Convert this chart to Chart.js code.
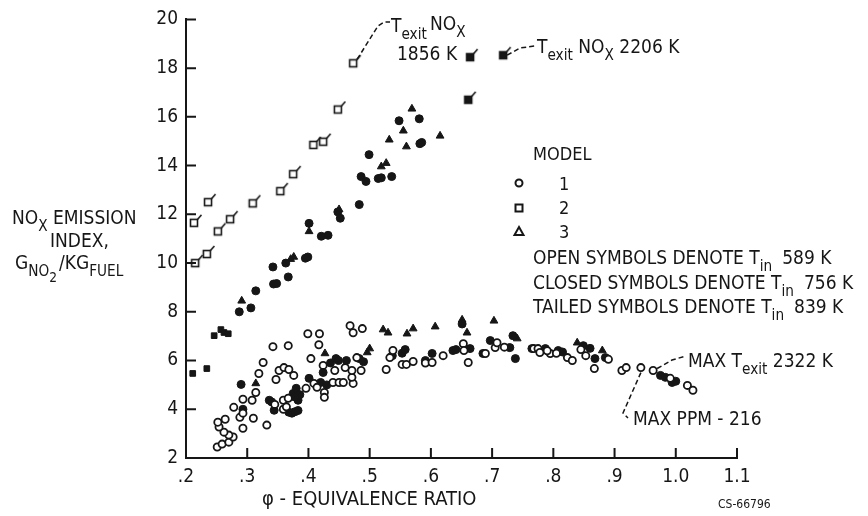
<!DOCTYPE html>
<html>
<head>
<meta charset="utf-8">
<script src="https://cdn.jsdelivr.net/npm/chart.js@4.4.1/dist/chart.umd.min.js"></script>
<style>
  html, body { margin: 0; padding: 0; background: #fff; }
  #wrap { width: 868px; height: 516px; position: relative; }
</style>
</head>
<body>
<div id="wrap"><canvas id="noxChart" width="868" height="516"></canvas></div>
<script>
/* NOx emission index vs equivalence ratio, scatter */
const xTicks = [0.2, 0.3, 0.4, 0.5, 0.6, 0.7, 0.8, 0.9, 1.0, 1.1];
const yTicks = [2, 4, 6, 8, 10, 12, 14, 16, 18, 20];

// model 1, open symbols (T_in 589 K)
const openCircles = [
    [0.251, 2.45], [0.259, 2.57], [0.27, 2.65], [0.277, 2.86], [0.27, 2.94], [0.262, 3.06],
    [0.293, 3.22], [0.254, 3.27], [0.332, 3.35], [0.252, 3.47], [0.264, 3.59], [0.288, 3.67],
    [0.31, 3.63], [0.278, 4.08], [0.293, 3.84], [0.293, 4.41], [0.308, 4.37], [0.314, 4.69],
    [0.319, 5.47], [0.326, 5.92], [0.342, 6.57], [0.367, 6.61], [0.347, 5.22], [0.352, 5.59],
    [0.36, 5.71], [0.368, 5.63], [0.376, 5.39], [0.359, 4.37], [0.367, 4.45], [0.359, 4.0],
    [0.364, 4.1], [0.345, 4.2], [0.396, 4.86], [0.399, 7.1], [0.418, 7.1], [0.417, 6.65],
    [0.404, 6.08], [0.409, 5.06], [0.414, 4.9], [0.424, 5.8], [0.426, 4.69], [0.426, 4.49],
    [0.44, 5.1], [0.45, 5.1], [0.457, 5.1], [0.473, 5.06], [0.471, 5.31], [0.471, 5.59],
    [0.46, 5.71], [0.468, 7.43], [0.473, 7.14], [0.488, 7.31], [0.479, 6.12], [0.486, 5.59],
    [0.443, 5.59], [0.527, 5.63], [0.533, 6.12], [0.538, 6.41], [0.553, 5.84], [0.56, 5.84],
    [0.571, 5.96], [0.591, 5.9], [0.602, 5.92], [0.62, 6.2], [0.653, 6.69], [0.654, 6.41],
    [0.661, 5.92], [0.689, 6.29], [0.705, 6.53], [0.708, 6.73], [0.72, 6.55], [0.768, 6.49],
    [0.775, 6.49], [0.778, 6.33], [0.795, 6.29], [0.79, 6.4], [0.805, 6.3], [0.823, 6.12],
    [0.831, 6.0], [0.845, 6.45], [0.853, 6.2], [0.867, 5.67], [0.89, 6.05], [0.912, 5.59],
    [0.919, 5.71], [0.943, 5.71], [0.963, 5.59], [0.991, 5.27], [1.019, 4.98], [1.028, 4.78]
];

// model 1, closed symbols (T_in 756 K)
const closedCircles = [
    [0.287, 8.0], [0.306, 8.16], [0.314, 8.86], [0.342, 9.84], [0.343, 9.14], [0.348, 9.16],
    [0.363, 10.0], [0.367, 9.43], [0.395, 10.2], [0.399, 10.25], [0.401, 11.63], [0.421, 11.1],
    [0.432, 11.14], [0.448, 12.1], [0.452, 11.84], [0.483, 12.4], [0.486, 13.55], [0.494, 13.35],
    [0.499, 14.45], [0.514, 13.47], [0.519, 13.5], [0.536, 13.55], [0.548, 15.84], [0.581, 15.92],
    [0.582, 14.9], [0.585, 14.95],
    [0.29, 5.02], [0.293, 4.0], [0.336, 4.37], [0.34, 4.3], [0.344, 3.96], [0.368, 3.88],
    [0.373, 3.84], [0.378, 3.9], [0.383, 3.95], [0.375, 4.65], [0.38, 4.86], [0.383, 4.37],
    [0.386, 4.6], [0.378, 4.5], [0.401, 5.27], [0.42, 5.1], [0.424, 5.51], [0.436, 5.9],
    [0.445, 6.08], [0.449, 6.0], [0.462, 6.0], [0.483, 6.08], [0.49, 5.95], [0.43, 5.0],
    [0.537, 6.2], [0.553, 6.3], [0.558, 6.45], [0.591, 6.0], [0.602, 6.29], [0.636, 6.41],
    [0.641, 6.45], [0.664, 6.49], [0.685, 6.29], [0.697, 6.82], [0.729, 6.53], [0.734, 7.02],
    [0.738, 6.08], [0.651, 7.5], [0.765, 6.49], [0.787, 6.49], [0.808, 6.41], [0.815, 6.35],
    [0.849, 6.61], [0.86, 6.5], [0.868, 6.08], [0.885, 6.12], [0.975, 5.39], [0.983, 5.31],
    [0.994, 5.1], [1.0, 5.15]
];

// model 2, closed symbols
const closedSquares = [
    [0.211, 5.47], [0.234, 5.67], [0.246, 7.02], [0.257, 7.27], [0.262, 7.15], [0.269, 7.1]
];

// model 3, closed symbols
const closedTriangles = [
    [0.291, 8.45], [0.371, 10.16], [0.376, 10.25], [0.401, 11.3], [0.45, 12.2], [0.519, 13.96],
    [0.527, 14.1], [0.532, 15.06], [0.555, 15.43], [0.56, 14.78], [0.569, 16.33], [0.615, 15.22],
    [0.314, 5.06], [0.427, 6.29], [0.496, 6.33], [0.5, 6.49], [0.522, 7.27], [0.53, 7.14],
    [0.561, 7.1], [0.571, 7.31], [0.607, 7.39], [0.651, 7.67], [0.659, 7.14], [0.703, 7.63],
    [0.741, 6.9], [0.88, 6.41], [0.839, 6.73]
];

// tailed symbols (T_in 839 K)
const tailedSquares = [
    [0.213, 11.65], [0.215, 10.0], [0.234, 10.37], [0.236, 12.5], [0.252, 11.3], [0.272, 11.8],
    [0.309, 12.45], [0.354, 12.95], [0.375, 13.65], [0.408, 14.85], [0.424, 14.98], [0.448, 16.3],
    [0.473, 18.2]
];
const tailedClosed = [[0.661, 16.7], [0.664, 18.45], [0.718, 18.53]];

const FONT = '"Liberation Sans Narrow", "DejaVu Sans Condensed", "Arial Narrow", sans-serif';
const INK = "#161616";

function toXY(arr) {
    return arr.map(function (p) { return { x: p[0], y: p[1] }; });
}

// small canvas used as point style: square with a tail
function tailedMark(filled) {
    const c = document.createElement("canvas");
    c.width = 18;
    c.height = 18;
    const g = c.getContext("2d");
    g.strokeStyle = INK;
    g.fillStyle = filled ? INK : "#fff";
    g.lineWidth = 1.6;
    g.fillRect(5.5, 5.5, 7, 7);
    g.strokeRect(5.5, 5.5, 7, 7);
    g.beginPath();
    g.moveTo(12.5, 5.5);
    g.lineTo(16.5, 1);
    g.stroke();
    return c;
}

// draw text with sub/normal runs; returns x at end
function runs(ctx, x, y, parts, size) {
    parts.forEach(function (p) {
        const sub = p[1] === "s";
        const s = sub ? size * 0.8 : size;
        ctx.font = s + "px " + FONT;
        ctx.fillText(p[0], x, y + (sub ? size * 0.38 : 0));
        x += ctx.measureText(p[0]).width;
    });
    return x;
}

const annotations = {
    id: "annotations",
    afterDraw(chart) {
        const ctx = chart.ctx;
        const xs = chart.scales.x, ys = chart.scales.y;
        const area = chart.chartArea;
        ctx.save();
        ctx.fillStyle = INK;
        ctx.strokeStyle = INK;

        // inward tick marks
        ctx.lineWidth = 2;
        ctx.beginPath();
        yTicks.forEach(function (v) {
            const py = ys.getPixelForValue(v);
            ctx.moveTo(area.left, py);
            ctx.lineTo(area.left + 10, py);
        });
        xTicks.forEach(function (v) {
            const px = xs.getPixelForValue(v);
            ctx.moveTo(px, area.bottom);
            ctx.lineTo(px, area.bottom - 10);
        });
        ctx.stroke();

        ctx.textBaseline = "alphabetic";
        ctx.textAlign = "left";

        // y axis title
        runs(ctx, 12, 224, [["NO", "n"], ["X", "s"], [" EMISSION", "n"]], 19);
        runs(ctx, 50, 247, [["INDEX,", "n"]], 19);
        let gx = runs(ctx, 15, 269, [["G", "n"], ["NO", "s"]], 19);
        gx = runs(ctx, gx, 276, [["2", "s"]], 17);
        runs(ctx, gx + 2, 269, [["/KG", "n"], ["FUEL", "s"]], 19);

        // x axis title
        ctx.font = "20px " + FONT;
        ctx.fillText("\u03c6 - EQUIVALENCE RATIO", 262, 505);
        ctx.font = "12px " + FONT;
        ctx.fillText("CS-66796", 718, 508);

        // legend block
        ctx.font = "18px " + FONT;
        ctx.fillText("MODEL", 533, 160);
        ctx.fillText("1", 559, 190);
        ctx.fillText("2", 559, 214);
        ctx.fillText("3", 559, 238);
        ctx.lineWidth = 2;
        ctx.beginPath();
        ctx.arc(519, 183, 3.5, 0, Math.PI * 2);
        ctx.stroke();
        ctx.strokeRect(515.5, 204.5, 7, 7);
        ctx.beginPath();
        ctx.moveTo(519, 227);
        ctx.lineTo(523.5, 235);
        ctx.lineTo(514.5, 235);
        ctx.closePath();
        ctx.stroke();

        let e = runs(ctx, 533, 264, [["OPEN SYMBOLS DENOTE T", "n"], ["in", "s"]], 19);
        runs(ctx, e + 10, 264, [["589 K", "n"]], 19);
        e = runs(ctx, 533, 289, [["CLOSED SYMBOLS DENOTE T", "n"], ["in", "s"]], 19);
        runs(ctx, e + 10, 289, [["756 K", "n"]], 19);
        e = runs(ctx, 533, 313, [["TAILED SYMBOLS DENOTE T", "n"], ["in", "s"]], 19);
        runs(ctx, e + 10, 313, [["839 K", "n"]], 19);

        // labelled points with dashed leaders
        function leader(pt, dx, dy, pts) {
            ctx.beginPath();
            ctx.moveTo(xs.getPixelForValue(pt[0]) + dx, ys.getPixelForValue(pt[1]) + dy);
            pts.forEach(function (q) { ctx.lineTo(q[0], q[1]); });
            ctx.stroke();
        }
        ctx.lineWidth = 1.5;
        ctx.setLineDash([5, 3]);
        leader(tailedSquares[tailedSquares.length - 1], 4, -4, [[378, 26], [384, 22], [390, 22]]);
        leader(tailedClosed[2], 4, 0, [[520, 48], [535, 46]]);
        leader(openCircles[86], 4, -2, [[672, 360], [686, 356]]);
        leader(openCircles[85], 0, 5, [[623, 413], [628, 418]]);
        ctx.setLineDash([]);

        runs(ctx, 391, 32, [["T", "n"], ["exit", "s"]], 19);
        runs(ctx, 430, 30, [["NO", "n"], ["X", "s"]], 19);
        runs(ctx, 397, 60, [["1856 K", "n"]], 19);
        runs(ctx, 537, 53, [["T", "n"], ["exit", "s"], [" NO", "n"], ["X", "s"], [" 2206 K", "n"]], 19);
        runs(ctx, 688, 367, [["MAX T", "n"], ["exit", "s"], [" 2322 K", "n"]], 19);
        runs(ctx, 633, 425, [["MAX PPM - 216", "n"]], 19);

        ctx.restore();
    }
};

document.addEventListener("DOMContentLoaded", function () {
    const ctx = document.getElementById("noxChart");
    const open = { backgroundColor: "#fff", borderColor: INK, borderWidth: 1.8 };
    const closed = { backgroundColor: INK, borderColor: INK, borderWidth: 1 };

    new Chart(ctx, {
        type: "scatter",
        data: {
            datasets: [
                Object.assign({ label: "1 open", data: toXY(openCircles), pointStyle: "circle", pointRadius: 3.6 }, open),
                Object.assign({ label: "1 closed", data: toXY(closedCircles), pointStyle: "circle", pointRadius: 4 }, closed),
                Object.assign({ label: "2 closed", data: toXY(closedSquares), pointStyle: "rect", pointRadius: 4 }, closed),
                Object.assign({ label: "3 closed", data: toXY(closedTriangles), pointStyle: "triangle", pointRadius: 4.5 }, closed),
                { label: "2 tailed", data: toXY(tailedSquares), pointStyle: tailedMark(false) },
                { label: "tailed closed", data: toXY(tailedClosed), pointStyle: tailedMark(true) }
            ]
        },
        options: {
            responsive: false,
            animation: false,
            events: [],
            clip: false,
            layout: {
                padding: { left: 0, right: 131, top: 17, bottom: 0 }
            },
            plugins: {
                legend: { display: false },
                tooltip: { enabled: false }
            },
            scales: {
                x: {
                    type: "linear",
                    min: 0.2,
                    max: 1.1,
                    afterFit: function (s) { s.height = 58; },
                    afterBuildTicks: function (s) { s.ticks = xTicks.map(function (v) { return { value: v }; }); },
                    ticks: {
                        padding: 8,
                        color: INK,
                        font: { family: FONT, size: 19 },
                        maxRotation: 0,
                        callback: function (v) {
                            const s = (Math.round(v * 10) / 10).toFixed(1);
                            return s.charAt(0) === "0" ? s.slice(1) : s;
                        }
                    },
                    grid: { drawOnChartArea: false, drawTicks: false, color: INK },
                    border: { display: true, color: INK, width: 2 }
                },
                y: {
                    type: "linear",
                    min: 2,
                    max: 20,
                    afterFit: function (s) { s.width = 186; },
                    afterBuildTicks: function (s) { s.ticks = yTicks.map(function (v) { return { value: v }; }); },
                    ticks: {
                        padding: 8,
                        color: INK,
                        font: { family: FONT, size: 19 }
                    },
                    grid: { drawOnChartArea: false, drawTicks: false, color: INK },
                    border: { display: true, color: INK, width: 2 }
                }
            }
        },
        plugins: [annotations]
    });
});
</script>
</body>
</html>
